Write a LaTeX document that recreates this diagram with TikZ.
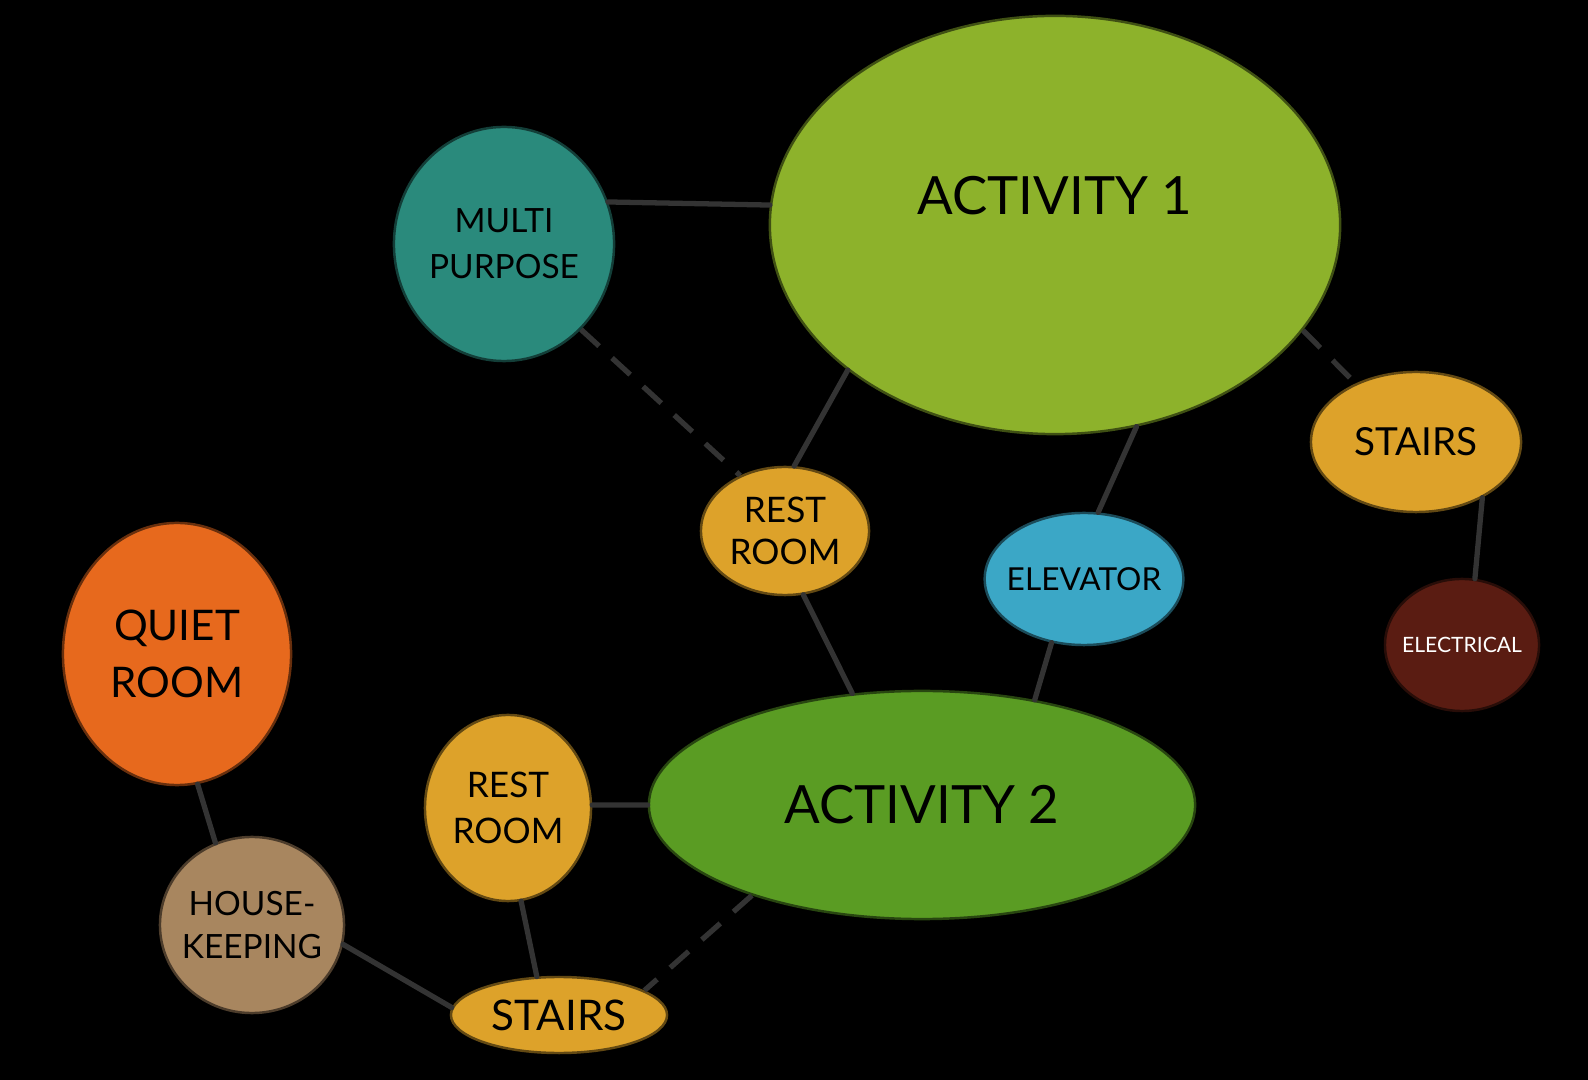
\documentclass[tikz,border=0pt]{standalone}
\usepackage{fontspec}
\setmainfont{Lato}
\usepackage{tikz}
\usetikzlibrary{shapes.geometric}
\definecolor{actlime}{HTML}{8DB22B}
\definecolor{actgreen}{HTML}{5A9C23}
\definecolor{multiteal}{HTML}{2A8A7C}
\definecolor{servgold}{HTML}{DDA22A}
\definecolor{liftblue}{HTML}{3BA7C6}
\definecolor{elecbrown}{HTML}{5A1C12}
\definecolor{quietorange}{HTML}{E7691D}
\definecolor{housetan}{HTML}{A8865F}
\definecolor{linkgray}{HTML}{333333}

\begin{document}
\begin{tikzpicture}[
      x=0.01cm, y=-0.01cm,
      bubble/.style={ellipse, draw=#1!45!black, fill=#1, line width=0.7pt, inner sep=-2pt, align=center, font=\fontsize{10}{12}\selectfont},
      link/.style={line width=1.5pt, draw=linkgray, line cap=round},
      dashlink/.style={link, line cap=butt, dash pattern=on 7pt off 5pt}
  ]
    \fill[black] (0,0) rectangle (1588,1080);

    \node[bubble=actlime, minimum width=5.70cm, minimum height=4.18cm, text depth=17pt, font=\fontsize{15}{17}\selectfont] (act1) at (1055,225) {ACTIVITY 1};
    \node[bubble=multiteal, minimum width=2.20cm, minimum height=2.34cm, font=\fontsize{9.5}{13}\selectfont] (multi) at (504,244) {MULTI\\PURPOSE};
    \node[bubble=servgold, minimum width=2.10cm, minimum height=1.40cm, font=\fontsize{11}{12}\selectfont] (stairsA) at (1416,442) {STAIRS};
    \node[bubble=elecbrown, minimum width=1.54cm, minimum height=1.32cm, text=white, font=\fontsize{6}{7}\selectfont] (elec) at (1462,645) {ELECTRICAL};
    \node[bubble=servgold, minimum width=1.68cm, minimum height=1.28cm] (restA) at (785,531) {REST\\ROOM};
    \node[bubble=liftblue, minimum width=1.96cm, minimum height=1.32cm, font=\fontsize{9}{10}\selectfont] (lift) at (1084,579) {ELEVATOR};
    \node[bubble=actgreen, minimum width=5.46cm, minimum height=2.28cm, font=\fontsize{15}{17}\selectfont] (act2) at (922,805) {ACTIVITY 2};
    \node[bubble=quietorange, minimum width=2.28cm, minimum height=2.62cm, font=\fontsize{12}{16}\selectfont] (quiet) at (177,654) {QUIET\\ROOM};
    \node[bubble=servgold, minimum width=1.66cm, minimum height=1.86cm, font=\fontsize{10}{13}\selectfont] (restB) at (508,808) {REST\\ROOM};
    \node[bubble=housetan, minimum width=1.84cm, minimum height=1.76cm, font=\fontsize{9.5}{12}\selectfont] (house) at (252,925) {HOUSE-\\KEEPING};
    \node[bubble=servgold, minimum width=2.16cm, minimum height=0.76cm, font=\fontsize{12}{13}\selectfont] (stairsB) at (559,1015) {STAIRS};

    \draw[link] (multi.22) -- (act1.176);
    \draw[dashlink] (multi.312) -- (restA.129);
    \draw[link] (act1.215) -- (restA.82);
    \draw[link] (act1.292) -- (lift.78);
    \draw[dashlink] (act1.337) -- (stairsA.136);
    \draw[link] (stairsA.320) -- (elec.79);
    \draw[link] (restA.286) -- (act2.122);
    \draw[link] (lift.243) -- (act2.43);
    \draw[link] (quiet.279) -- (house.114);
    \draw[link] (restB.2) -- (act2.180);
    \draw[link] (restB.278) -- (stairsB.120);
    \draw[link] (house.348) -- (stairsB.176);
    \draw[dashlink] (act2.208) -- (stairsB.16);
  \end{tikzpicture}
\end{document}
